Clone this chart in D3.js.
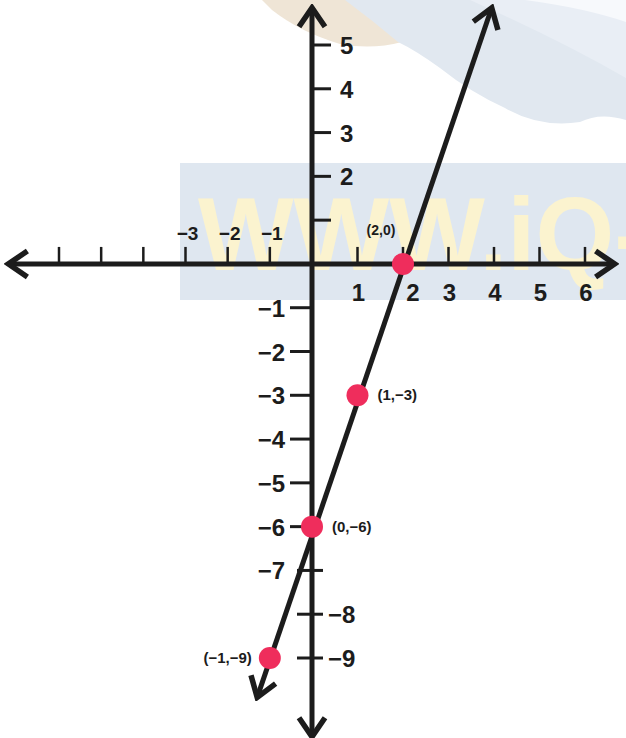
<!DOCTYPE html>
<html>
<head>
<meta charset="utf-8">
<script src="https://cdn.jsdelivr.net/npm/d3@7"></script>
<style>
  body { margin: 0; background: #fff; }
  text { font-family: "Liberation Sans", Arial, sans-serif; font-weight: bold; fill: #1c1c1c; }
</style>
</head>
<body>
<div id="graph"></div>
<script>
// data: the line y = 3x - 6 and the plotted points
const pointX = [2, 1, 0, -1];
const pointY = [0, -3, -6, -9];
const pointLabels = ["(2,0)", "(1,\u22123)", "(0,\u22126)", "(\u22121,\u22129)"];
const lineSlope = 3;
const lineIntercept = -6;
const lineEndsX = [-1.3, 3.95];

// tick values
const xTicks = [-6, -5, -4, -3, -2, -1, 1, 2, 3, 4, 5, 6];
const xLabelsAbove = [-3, -2, -1];
const xLabelsBelow = [1, 2, 3, 4, 5, 6];
const yTicksRight = [5, 4, 3, 2, 1];
const yTicksLeft = [-1, -2, -3, -4, -5, -6];
const yTicksCross = [-7, -8, -9];
const yLabelsRight = [5, 4, 3, 2, -8, -9];
const yLabelsLeft = [-1, -2, -3, -4, -5, -6, -7];
const xAxisEnds = [-7.2, 6.65];
const yAxisEnds = [-10.8, 5.85];

const width = 626;
const height = 738;
const ink = "#1c1c1c";

const svg = d3.select("#graph")
  .append("svg")
    .attr("width", width)
    .attr("height", height);

// hand drawn axis: negative side a bit tighter than the positive side
const x = d3.scaleLinear()
  .domain([-6, 0, 6])
  .range([59, 312, 585]);

const y = d3.scaleLinear()
  .domain([-9, 5])
  .range([658, 45]);

const fmt = d3.format("d");

/*   background of the scanned page   */
svg.append("path")
  .attr("d", "M262,0 L410,0 L402,42 Q372,50 340,44 Q300,32 272,10 Z")
  .attr("fill", "#efe5d6");
svg.append("path")
  .attr("d", "M345,0 L626,0 L626,120 Q600,112 580,122 Q540,128 505,108 Q470,92 440,68 Q415,50 398,42 Q372,20 345,0 Z")
  .attr("fill", "#e1e8f0");
svg.append("path")
  .attr("d", "M470,0 L626,0 L626,78 Q560,40 470,0 Z")
  .attr("fill", "#e9eef5");
svg.append("path")
  .attr("d", "M525,0 L626,0 L626,22 Q585,8 525,0 Z")
  .attr("fill", "#f7f9fc");
svg.append("rect")
  .attr("x", 180).attr("y", 163)
  .attr("width", width - 180).attr("height", 137)
  .attr("fill", "#dfe7f0");
svg.append("text")
  .text("WWW.iQ-")
  .attr("x", 198).attr("y", 270)
  .attr("textLength", 450)
  .attr("lengthAdjust", "spacingAndGlyphs")
  .style("font-size", "104px")
  .style("fill", "#fbf3cf");

/*   arrow head   */
svg.append("defs")
  .append("marker")
    .attr("id", "arrow")
    .attr("viewBox", "-24 -16 28 32")
    .attr("refX", 0).attr("refY", 0)
    .attr("markerWidth", 28).attr("markerHeight", 32)
    .attr("markerUnits", "userSpaceOnUse")
    .attr("orient", "auto-start-reverse")
  .append("path")
    .attr("d", "M-19,-13 L0,0 L-19,13")
    .attr("fill", "none")
    .attr("stroke", ink)
    .attr("stroke-width", 5.5)
    .attr("stroke-linejoin", "miter");

/*   axes   */
svg.append("line")
  .attr("x1", x(xAxisEnds[0])).attr("x2", x(xAxisEnds[1]))
  .attr("y1", y(0)).attr("y2", y(0))
  .attr("stroke", ink).attr("stroke-width", 5)
  .attr("marker-start", "url(#arrow)")
  .attr("marker-end", "url(#arrow)");

svg.append("line")
  .attr("x1", x(0)).attr("x2", x(0))
  .attr("y1", y(yAxisEnds[1])).attr("y2", y(yAxisEnds[0]))
  .attr("stroke", ink).attr("stroke-width", 5)
  .attr("marker-start", "url(#arrow)")
  .attr("marker-end", "url(#arrow)");

// x ticks, all above the axis
svg.selectAll(".xtick")
  .data(xTicks)
  .join("line")
    .attr("class", "xtick")
    .attr("x1", d => x(d)).attr("x2", d => x(d))
    .attr("y1", y(0)).attr("y2", y(0) - 17)
    .attr("stroke", ink).attr("stroke-width", 2.5);

svg.selectAll(".xlab-above")
  .data(xLabelsAbove)
  .join("text")
    .attr("class", "xlab-above")
    .attr("x", d => x(d) + 2)
    .attr("y", y(0) - 24)
    .attr("text-anchor", "middle")
    .style("font-size", "19px")
    .text(d => fmt(d));

svg.selectAll(".xlab-below")
  .data(xLabelsBelow)
  .join("text")
    .attr("class", "xlab-below")
    .attr("x", d => x(d) + (d === 2 ? 10 : 1))
    .attr("y", y(0) + 37)
    .attr("text-anchor", "middle")
    .style("font-size", "24px")
    .text(d => fmt(d));

// y ticks
svg.selectAll(".ytick-r")
  .data(yTicksRight)
  .join("line")
    .attr("class", "ytick-r")
    .attr("x1", x(0)).attr("x2", x(0) + 19)
    .attr("y1", d => y(d)).attr("y2", d => y(d))
    .attr("stroke", ink).attr("stroke-width", 3);

svg.selectAll(".ytick-l")
  .data(yTicksLeft)
  .join("line")
    .attr("class", "ytick-l")
    .attr("x1", x(0) - 22).attr("x2", x(0))
    .attr("y1", d => y(d)).attr("y2", d => y(d))
    .attr("stroke", ink).attr("stroke-width", 3);

svg.selectAll(".ytick-c")
  .data(yTicksCross)
  .join("line")
    .attr("class", "ytick-c")
    .attr("x1", x(0) - 15).attr("x2", x(0) + 11)
    .attr("y1", d => y(d)).attr("y2", d => y(d))
    .attr("stroke", ink).attr("stroke-width", 3);

svg.selectAll(".ylab-r")
  .data(yLabelsRight)
  .join("text")
    .attr("class", "ylab-r")
    .attr("x", d => d > 0 ? x(0) + 28 : x(0) + 16)
    .attr("y", d => y(d) + 9)
    .style("font-size", "24px")
    .text(d => fmt(d));

svg.selectAll(".ylab-l")
  .data(yLabelsLeft)
  .join("text")
    .attr("class", "ylab-l")
    .attr("x", x(0) - 27)
    .attr("y", d => y(d) + 9)
    .attr("text-anchor", "end")
    .style("font-size", "24px")
    .text(d => fmt(d));

/*   the line   */
svg.append("line")
  .attr("x1", x(lineEndsX[0])).attr("y1", y(lineSlope * lineEndsX[0] + lineIntercept))
  .attr("x2", x(lineEndsX[1])).attr("y2", y(lineSlope * lineEndsX[1] + lineIntercept))
  .attr("stroke", ink).attr("stroke-width", 5)
  .attr("marker-start", "url(#arrow)")
  .attr("marker-end", "url(#arrow)");

/*   points   */
const points = pointX.map((px, i) => ({x: px, y: pointY[i], label: pointLabels[i]}));

svg.selectAll(".pt")
  .data(points)
  .join("circle")
    .attr("class", "pt")
    .attr("cx", d => x(d.x))
    .attr("cy", d => y(d.y))
    .attr("r", 11)
    .attr("fill", "#ef2d5c");

svg.selectAll(".ptlab")
  .data(points)
  .join("text")
    .attr("class", "ptlab")
    .attr("x", d => d.x === 2 ? x(d.x) - 22 : d.x < 0 ? x(d.x) - 18 : x(d.x) + 20)
    .attr("y", d => d.x === 2 ? y(d.y) - 29 : y(d.y) + 5)
    .attr("text-anchor", d => d.x === 2 ? "middle" : d.x < 0 ? "end" : "start")
    .style("font-size", d => d.x === 2 ? "14px" : "15px")
    .text(d => d.label);
</script>
</body>
</html>
